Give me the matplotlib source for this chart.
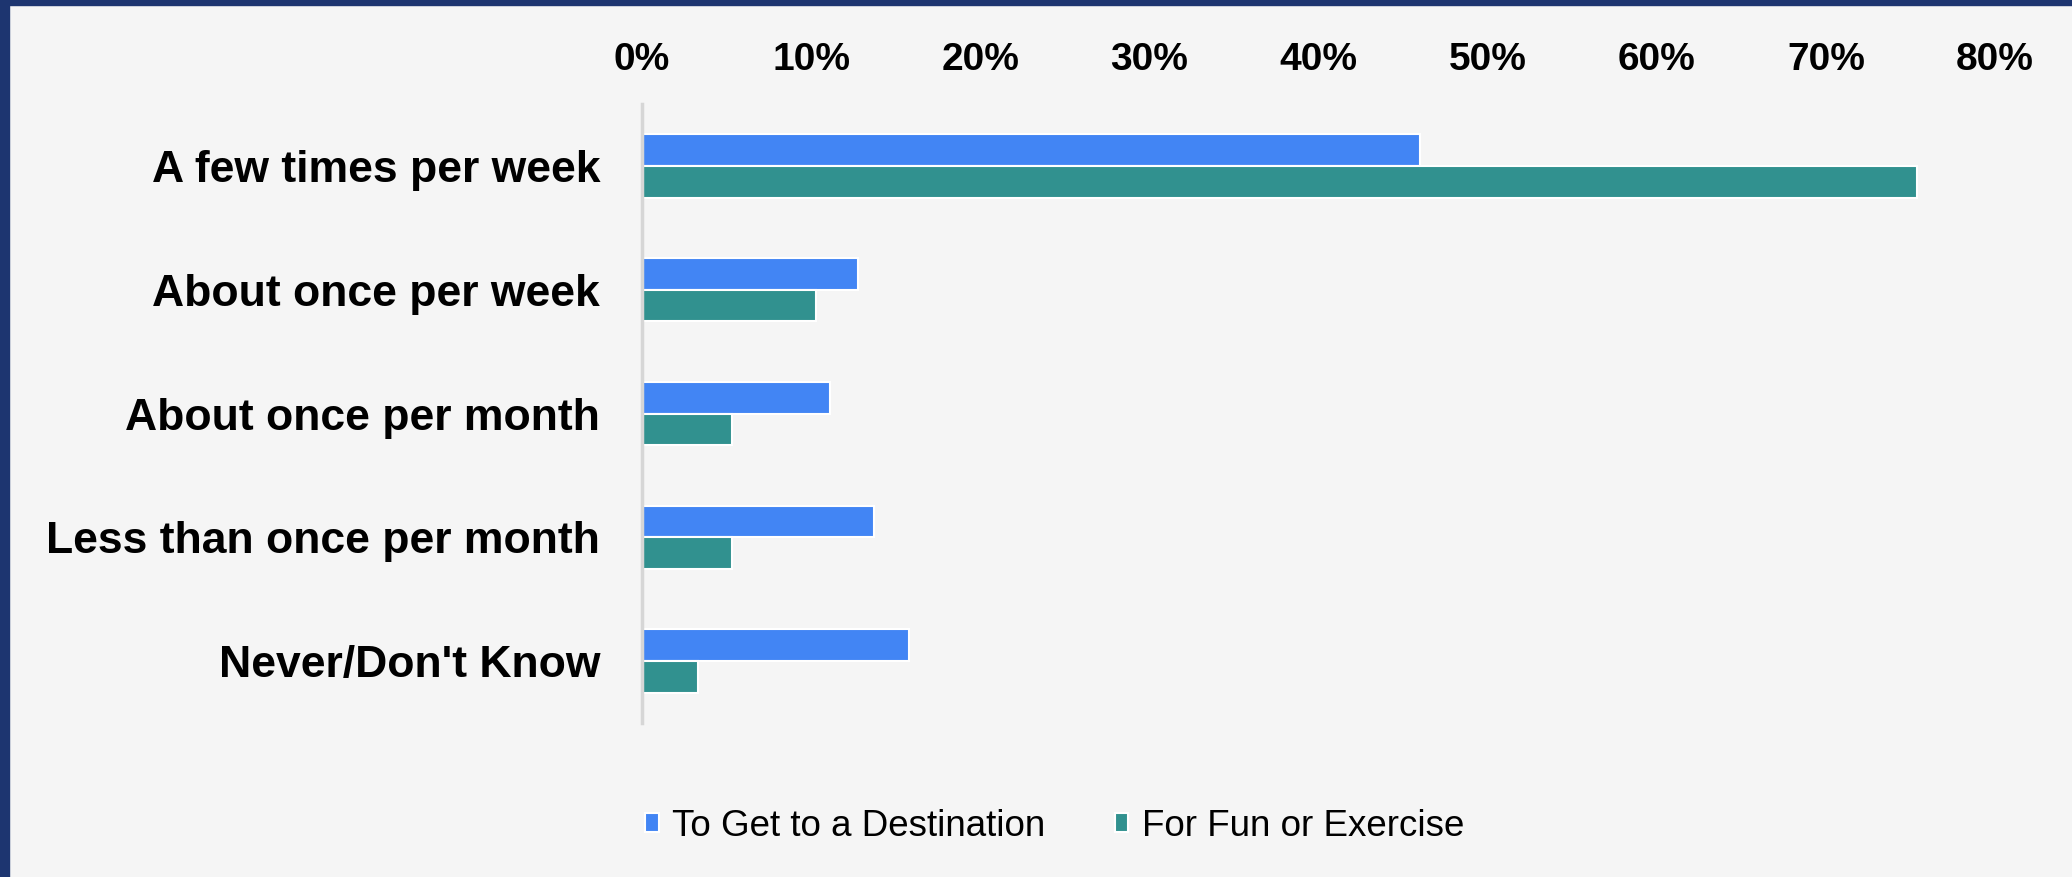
import numpy as np
import matplotlib
matplotlib.use("Agg")
import matplotlib.pyplot as plt
from matplotlib.ticker import PercentFormatter

plt.rcParams['font.family'] = ['Liberation Sans', 'DejaVu Sans']

categories = ["A few times per week", "About once per week", "About once per month",
              "Less than once per month", "Never/Don't Know"]
destination = [46.0, 12.8, 11.1, 13.7, 15.8]
fun_exercise = [75.4, 10.3, 5.3, 5.3, 3.3]
series_names = ["To Get to a Destination", "For Fun or Exercise"]
xticks = [0, 10, 20, 30, 40, 50, 60, 70, 80]

BLUE = "#4285f4"
TEAL = "#31918f"
BG = "#f5f5f5"
NAVY = "#1d3570"

fig = plt.figure(figsize=(20.72, 8.77), dpi=100)
fig.patch.set_facecolor(BG)
ax = fig.add_axes([0.3098, 0.1757, 0.9629 - 0.3098, 0.8813 - 0.1757])
ax.set_facecolor(BG)

y = np.arange(len(categories))
h = 0.255
ax.barh(y - h / 2, destination, height=h, color=BLUE, edgecolor="white",
        linewidth=1.5, label=series_names[0])
ax.barh(y + h / 2, fun_exercise, height=h, color=TEAL, edgecolor="white",
        linewidth=1.5, label=series_names[1])

ax.set_ylim(len(categories) - 0.5, -0.5)
ax.set_xlim(0, 80)
ax.set_yticks(y)
ax.set_yticklabels(categories, fontsize=32, fontweight="bold")
ax.set_xticks(xticks)
ax.xaxis.set_major_formatter(PercentFormatter(decimals=0))
ax.xaxis.tick_top()
ax.tick_params(axis="x", length=0, pad=19, labelsize=28)
ax.tick_params(axis="y", length=0, pad=30)
for lbl in ax.get_xticklabels():
    lbl.set_fontweight("bold")

for side in ["top", "right", "bottom"]:
    ax.spines[side].set_visible(False)
ax.spines["left"].set_color("#d6d6d6")
ax.spines["left"].set_linewidth(2.5)

leg = fig.legend(loc="center", bbox_to_anchor=(0.509, 0.058), ncol=2, frameon=False,
                 fontsize=26.5, handlelength=0.36, handleheight=0.39,
                 handletextpad=0.36, columnspacing=1.9)

# dark frame along the top and left edges
fig.patches.append(plt.Rectangle((0, 0), 9 / 2072, 1, transform=fig.transFigure,
                                 color=NAVY, zorder=10))
fig.patches.append(plt.Rectangle((0, 1 - 5 / 877), 1, 5 / 877, transform=fig.transFigure,
                                 color=NAVY, zorder=10))

fig.savefig("out.png", dpi=100, facecolor=BG)
